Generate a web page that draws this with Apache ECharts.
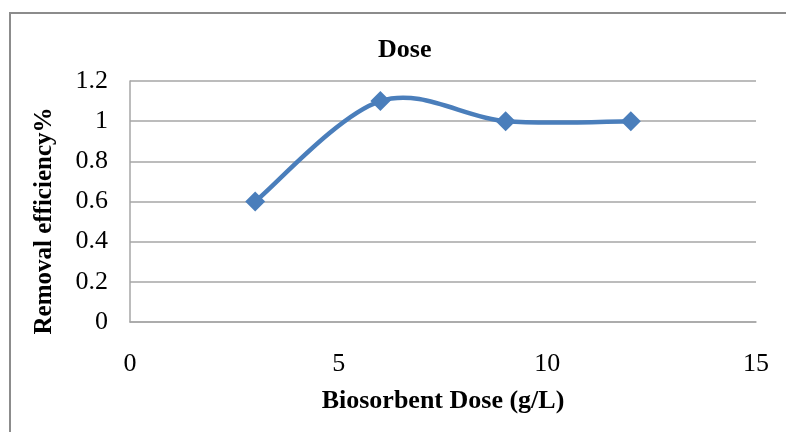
<!DOCTYPE html>
<html>
<head>
<meta charset="utf-8">
<script src="https://cdn.jsdelivr.net/npm/echarts@6/dist/echarts.min.js"></script>
<style>
  html, body { margin: 0; padding: 0; background: #fff; }
  #chart { width: 786px; height: 432px; }
</style>
</head>
<body>
<div id="chart"></div>
<script>
// Biosorbent dose vs. removal efficiency
const doses = [3, 6, 9, 12];
const efficiency = [0.6, 1.1, 1.0, 1.0];
const chartTitle = 'Dose';
const xName = 'Biosorbent Dose (g/L)';
const yName = 'Removal efficiency%';

const serif = '"Liberation Serif", "DejaVu Serif", serif';
const lineColor = '#4a7ebb';
const points = doses.map((d, i) => [d, efficiency[i]]);

// Smoothed connecting line: cubic Bezier segments whose control points
// follow the neighbouring points (Catmull-Rom style, tension 1/6).
function renderCurve(params, api) {
  if (params.dataIndex !== 0) return null;
  const px = points.map(p => api.coord(p));
  const n = px.length;
  const children = [];
  for (let i = 0; i < n - 1; i++) {
    const p0 = px[Math.max(i - 1, 0)];
    const p1 = px[i];
    const p2 = px[i + 1];
    const p3 = px[Math.min(i + 2, n - 1)];
    children.push({
      type: 'bezierCurve',
      shape: {
        x1: p1[0], y1: p1[1],
        cpx1: p1[0] + (p2[0] - p0[0]) / 6, cpy1: p1[1] + (p2[1] - p0[1]) / 6,
        cpx2: p2[0] - (p3[0] - p1[0]) / 6, cpy2: p2[1] - (p3[1] - p1[1]) / 6,
        x2: p2[0], y2: p2[1]
      },
      style: { stroke: lineColor, lineWidth: 4.5, fill: null, lineCap: 'round' }
    });
  }
  return { type: 'group', children };
}

const chart = echarts.init(document.getElementById('chart'));

chart.setOption({
  backgroundColor: '#fff',
  animation: false,
  graphic: [
    {
      type: 'rect',
      shape: { x: 10, y: 13, width: 800, height: 440 },
      style: { fill: 'none', stroke: '#8c8c8c', lineWidth: 2 },
      silent: true
    },
    {
      type: 'text',
      left: 378,
      top: 37,
      style: {
        text: chartTitle,
        font: 'bold 26px ' + serif,
        fill: '#000'
      }
    },
    {
      type: 'text',
      x: 45,
      y: 221,
      rotation: Math.PI / 2,
      style: {
        text: yName,
        font: 'bold 25px ' + serif,
        fill: '#000',
        align: 'center',
        verticalAlign: 'middle'
      }
    }
  ],
  grid: { left: 130, right: 30, top: 81, bottom: 110 },
  xAxis: {
    type: 'value',
    min: 0, max: 15, interval: 5,
    name: xName,
    nameLocation: 'middle',
    nameGap: 66,
    nameTextStyle: { fontFamily: serif, fontWeight: 'bold', fontSize: 26, color: '#000' },
    axisLine: { show: true, lineStyle: { color: '#a6a6a6', width: 1.5 } },
    axisTick: { show: false },
    splitLine: { show: false },
    axisLabel: { fontFamily: serif, fontSize: 26, color: '#000', margin: 29 }
  },
  yAxis: {
    type: 'value',
    min: 0, max: 1.2, interval: 0.2,
    axisLine: { show: true, lineStyle: { color: '#a6a6a6', width: 1.5 } },
    axisTick: { show: false },
    splitLine: { show: true, lineStyle: { color: '#a6a6a6', width: 1.5 } },
    axisLabel: {
      fontFamily: serif, fontSize: 26, color: '#000', margin: 22,
      formatter: v => String(Math.round(v * 10) / 10)
    }
  },
  series: [
    {
      type: 'custom',
      renderItem: renderCurve,
      data: points,
      encode: { x: 0, y: 1 },
      silent: true,
      z: 2
    },
    {
      type: 'scatter',
      data: points,
      symbol: 'diamond',
      symbolSize: 20,
      itemStyle: { color: lineColor, opacity: 1 },
      z: 3
    }
  ]
});
</script>
</body>
</html>
